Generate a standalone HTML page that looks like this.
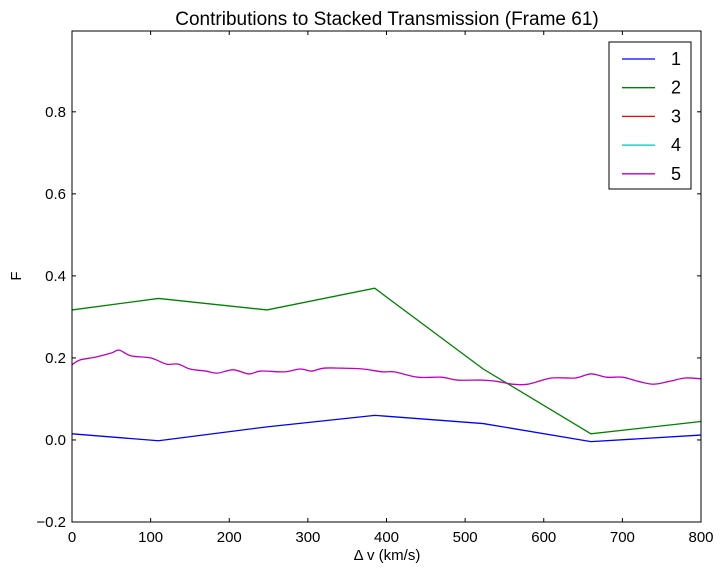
<!DOCTYPE html>
<html><head><meta charset="utf-8"><style>
body{margin:0;background:#fff;font-family:"Liberation Sans","DejaVu Sans",sans-serif}
</style></head><body>
<svg id="c" width="726" height="574" xmlns="http://www.w3.org/2000/svg"></svg>
<script>
const xTicks=[0,100,200,300,400,500,600,700,800];
const yTicks=[-0.2,0.0,0.2,0.4,0.6,0.8];
const series1X=[0,110,248,385,523,660,800];
const series1Y=[0.015,-0.002,0.032,0.06,0.04,-0.004,0.012];
const series2X=[0,110,248,385,523,660,800];
const series2Y=[0.317,0.345,0.317,0.37,0.173,0.015,0.045];
const series5X=[0,10,30,50,60,75,100,120,135,150,170,185,205,225,240,270,290,305,320,345,370,395,410,440,470,490,520,540,560,580,610,640,660,680,700,720,740,760,780,800];
const series5Y=[0.183,0.195,0.202,0.212,0.219,0.205,0.2,0.185,0.185,0.173,0.168,0.163,0.171,0.161,0.168,0.166,0.173,0.168,0.175,0.175,0.173,0.166,0.166,0.153,0.153,0.146,0.146,0.143,0.136,0.136,0.151,0.151,0.161,0.153,0.153,0.143,0.136,0.143,0.151,0.149];
const legendLabels=["1","2","3","4","5"];
const legendColors=["#0000ff","#008000","#ff0000","#00bfbf","#bf00bf"];
const L=72,R=701,T=31,B=522,ymin=-0.2,ymax=0.997;
const sx=v=>L+(v-0)/(800-0)*(R-L);
const sy=v=>B-(v-ymin)/(ymax-ymin)*(B-T);
const svg=document.getElementById('c');
const NS='http://www.w3.org/2000/svg';
function mk(t,a,txt){const e=document.createElementNS(NS,t);for(const k in a)e.setAttribute(k,a[k]);if(txt!==undefined)e.textContent=txt;svg.appendChild(e);return e;}
function line(xs,ys,col,name,smooth){
  const P=xs.map((x,i)=>[sx(x),sy(ys[i])]);
  let d='M'+P[0][0]+','+P[0][1];
  for(let i=0;i<P.length-1;i++){
    if(!smooth){d+=' L'+P[i+1][0]+','+P[i+1][1];continue;}
    const p0=P[Math.max(0,i-1)],p1=P[i],p2=P[i+1],p3=P[Math.min(P.length-1,i+2)];
    const c1=[p1[0]+(p2[0]-p0[0])/6,p1[1]+(p2[1]-p0[1])/6];
    const c2=[p2[0]-(p3[0]-p1[0])/6,p2[1]-(p3[1]-p1[1])/6];
    d+=' C'+c1[0]+','+c1[1]+' '+c2[0]+','+c2[1]+' '+p2[0]+','+p2[1];
  }
  const p=mk('path',{d:d,fill:'none',stroke:col,'stroke-width':1.3});
  
  
}
line(series1X,series1Y,'#0000ff','series-1-line',false);
line(series2X,series2Y,'#008000','series-2-line',false);
line(series5X,series5Y,'#bf00bf','series-5-line',true);
const fr=mk('rect',{x:L,y:T,width:R-L,height:B-T,fill:'none',stroke:'#000','stroke-width':1});


xTicks.forEach(v=>{
  const x=sx(v);
  mk('line',{x1:x,x2:x,y1:B,y2:B-4,stroke:'#000'});
  mk('line',{x1:x,x2:x,y1:T,y2:T+4,stroke:'#000'});
  const t=mk('text',{x:x,y:B+20,'text-anchor':'middle','font-size':15},String(v));
  
  
});
yTicks.forEach(v=>{
  const y=sy(v);
  mk('line',{x1:L,x2:L+4,y1:y,y2:y,stroke:'#000'});
  mk('line',{x1:R,x2:R-4,y1:y,y2:y,stroke:'#000'});
  const t=mk('text',{x:L-6,y:y+5,'text-anchor':'end','font-size':15},(v<0?'\u2212':'')+Math.abs(v).toFixed(1));
  
  
});
let t=mk('text',{x:387,y:25,'text-anchor':'middle','font-size':19},'Contributions to Stacked Transmission (Frame 61)');

t=mk('text',{x:387,y:560,'text-anchor':'middle','font-size':15},'\u0394 v (km/s)');

t=mk('text',{x:21,y:276,'text-anchor':'middle','font-size':15,transform:'rotate(-90 21 276)'},'F');

const lg=mk('rect',{x:609,y:42,width:82,height:147,fill:'#fff',stroke:'#000'});

legendLabels.forEach((lab,i)=>{
  const y=59+i*28.7;
  const l=mk('line',{x1:622,x2:655,y1:y,y2:y,stroke:legendColors[i],'stroke-width':1.3});
  
  const tx=mk('text',{x:671,y:y+6,'font-size':18},lab);
  
});
</script>
</body></html>
